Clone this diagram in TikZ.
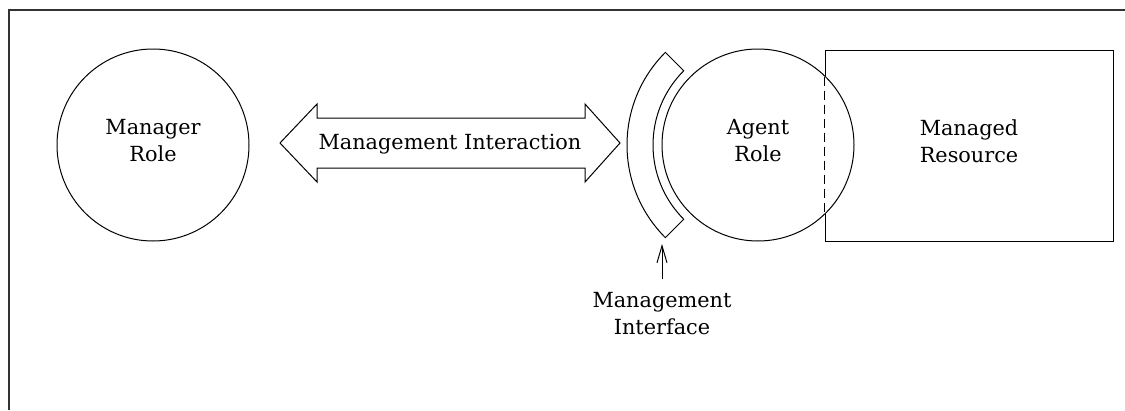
\documentclass[tikz,border=0pt]{standalone}
\usepackage{fontspec}
\setmainfont{DejaVu Serif}
\usetikzlibrary{arrows.meta}
\begin{document}
\begin{tikzpicture}[x=1pt,y=1pt,
  lbl/.style={font=\fontsize{20.8}{27}\selectfont, align=center, inner sep=0pt},
  rolecirc/.style={circle, draw, line width=1pt, minimum size=192pt, inner sep=0pt},
  shp/.style={draw, line width=1pt}]
\useasboundingbox (0,0) rectangle (1125,-410);
% frame (top and left edges only)
\draw[line width=1.2pt, black!80] (9,-410) -- (9,-10) -- (1126,-10);
% managed resource
\node[shp, rectangle, minimum width=288pt, minimum height=191pt, inner sep=0pt] (res) at (969,-145.5) {};
\node[lbl] (restxt) at ([yshift=4.5pt]res.center) {Managed\\Resource};
% manager role
\node[rolecirc] (mgr) at (153,-145) {};
\node[lbl] (mgrtxt) at ([yshift=4.5pt]mgr.center) {Manager\\Role};
% agent role
\node[rolecirc, fill=white] (agent) at (758,-145) {};
\node[lbl] (agenttxt) at ([yshift=4.5pt]agent.center) {Agent\\Role};
\draw[line width=1pt, dash pattern=on 9pt off 5pt] ([yshift=69pt]res.west) -- ([yshift=-69pt]res.west);
% management interaction double arrow
\draw[shp, line join=miter] (280,-143) -- (317,-104) -- (317,-118) -- (585,-118) -- (585,-104)
  -- (620,-143) -- (585,-182) -- (585,-168) -- (317,-168) -- (317,-182) -- cycle;
\node[lbl, anchor=base] (inter) at (450,-149) {Management Interaction};
% management interface (annular sector)
\draw[shp] ([shift={(135:131pt)}]agent.center) arc[start angle=135, end angle=225, radius=131pt]
  -- ([shift={(225:105pt)}]agent.center) arc[start angle=225, end angle=135, radius=105pt] -- cycle;
\coordinate (iftip) at (662,-244);
\node[lbl] (iflabel) at (662,-313.5) {Management\\Interface};
\draw[line width=1pt, -{Straight Barb[length=17pt,width=10pt]}] (662,-279) -- (iftip);
\end{tikzpicture}
\end{document}
